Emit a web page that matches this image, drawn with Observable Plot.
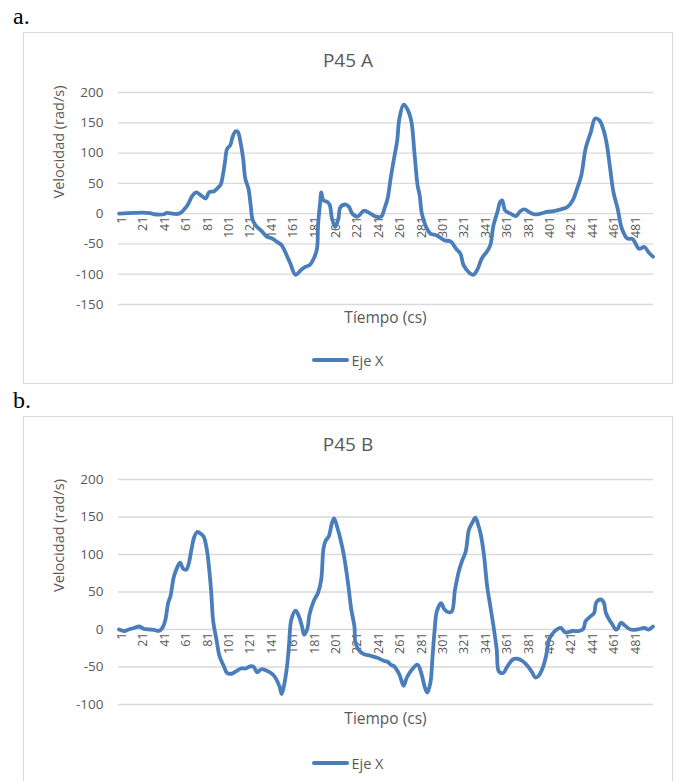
<!DOCTYPE html>
<html><head><meta charset="utf-8">
<script src="https://cdn.jsdelivr.net/npm/d3@7"></script>
<script src="https://cdn.jsdelivr.net/npm/@observablehq/plot@0.6"></script>
<style>
html,body{margin:0;padding:0;background:#fff;overflow:hidden}
body{width:675px;height:781px;position:relative;font-family:"Open Sans",sans-serif;color:#595959}
.lab{position:absolute;left:13px;font-family:"Liberation Serif",serif;font-size:24px;line-height:28px;color:#000}
.box{position:absolute;left:23px;width:650px;border:1.3px solid #d9d9d9;box-sizing:border-box}
.ptitle{position:absolute;left:23px;width:650px;text-align:center;font-size:19px;line-height:24px;color:#595959}
.xt{position:absolute;left:118px;width:535px;text-align:center;font-size:15.5px;line-height:20px;color:#595959}
.leg{position:absolute;left:23px;width:650px;display:flex;justify-content:center;align-items:center;height:20px;font-size:14.5px;color:#595959}
.leg span.l{display:inline-block;width:37px;height:4px;border-radius:2px;background:#4a7ebb;margin-right:2px}
.svgw{position:absolute;left:23px}
</style></head><body>
<script>
// ---- data ----
const xTickLabels = [1,21,41,61,81,101,121,141,161,181,201,221,241,261,281,301,321,341,361,381,401,421,441,461,481];
const aYTicks = [-150,-100,-50,0,50,100,150,200];
const bYTicks = [-100,-50,0,50,100,150,200];

const aTime = [1,9,30,34,43,45,57,65,69,73,77,82,85,90,93,96,98,100,102,105,107,110,112,115,117,119,122,124,126,130,135,139,144,149,153,157,161,166,171,175,179,183,186,187,189,190,192,196,198,200,203,206,208,213,216,219,224,230,236,241,246,249,252,255,258,261,263,267,270,274,277,280,282,284,288,292,298,305,311,316,320,323,328,332,336,340,345,348,351,355,357,359,362,367,372,376,380,384,389,395,401,407,414,420,425,429,433,437,442,446,450,454,457,460,463,467,471,476,481,487,492,496,500];
const aVel = [0,1,1,-1,-1,1,0,14,28,35,31,25,35,37,42,48,63,85,107,113,126,136,135,113,91,58,41,14,-11,-22,-30,-38,-41,-47,-52,-66,-82,-101,-93,-88,-85,-74,-58,-19,19,35,22,19,14,-8,-22,-8,11,15,11,0,-5,5,0,-5,-5,8,25,60,91,121,157,180,174,154,102,47,30,0,-22,-33,-36,-44,-46,-58,-66,-85,-97,-101,-92,-74,-62,-52,-19,5,19,22,5,0,-4,4,7,3,-1,0,3,4,7,11,22,41,63,107,135,157,154,137,113,74,36,8,-25,-41,-42,-58,-55,-64,-71];

const bTime = [1,6,10,15,20,24,30,35,38,41,44,47,49,52,54,58,61,64,66,69,71,74,77,80,83,85,87,89,92,95,99,102,106,110,115,119,124,127,130,134,139,143,147,151,153,155,158,160,162,166,169,172,174,177,179,183,187,190,192,194,197,200,202,205,208,211,215,218,221,222,226,230,236,243,249,252,255,258,263,267,270,275,280,283,287,289,292,294,296,298,302,305,309,312,315,319,322,325,328,331,334,337,339,342,345,348,351,354,356,360,364,369,373,378,383,387,390,393,397,400,403,407,414,418,425,431,435,437,442,445,447,451,454,456,460,462,465,467,470,474,479,485,492,496,500];
const bVel = [0,-2,0,2,4,1,0,-1,-2,1,11,36,44,69,78,89,81,80,87,109,122,130,128,124,107,84,53,11,-13,-36,-49,-58,-59,-56,-52,-52,-49,-50,-57,-53,-55,-58,-64,-76,-86,-76,-49,-18,13,25,18,4,-7,1,20,38,49,67,107,118,124,142,148,136,120,100,62,27,4,-18,-29,-33,-35,-38,-42,-43,-47,-49,-60,-75,-64,-53,-47,-56,-78,-84,-71,-36,0,24,35,27,23,24,53,80,93,104,133,142,149,138,127,100,58,31,4,-27,-56,-58,-49,-40,-39,-42,-49,-57,-64,-62,-51,-36,-13,-4,2,-4,-2,-2,1,11,18,22,36,40,36,22,11,7,0,1,9,5,0,0,2,0,4];

const panels = [
  {label:"a.", labelTop:2, boxTop:32, boxH:352, title:"P45 A", xTitle:"Tíempo (cs)",
   time:aTime, vel:aVel, yDomain:[-150,200], yTicks:aYTicks, mt:60, mb:80, xTitleY:317, legY:360},
  {label:"b.", labelTop:386, boxTop:416, boxH:370, title:"P45 B", xTitle:"Tiempo (cs)",
   time:bTime, vel:bVel, yDomain:[-100,200], yTicks:bYTicks, mt:63, mb:82, xTitleY:718, legY:763}
];

const BLUE = "#4a7ebb";
for (const p of panels) {
  const lab = document.createElement("div");
  lab.className = "lab"; lab.style.top = p.labelTop + "px"; lab.textContent = p.label;
  document.body.appendChild(lab);

  const box = document.createElement("div");
  box.className = "box"; box.style.top = p.boxTop + "px"; box.style.height = p.boxH + "px";
  document.body.appendChild(box);

  const data = p.time.map((t, i) => ({t, v: p.vel[i]}));
  const ticksX = xTickLabels.map(c => ({c, v: 0}));
  const svg = Plot.plot({
    width: 650, height: p.boxH,
    marginLeft: 95, marginRight: 20, marginTop: p.mt, marginBottom: p.mb,
    style: {fontFamily: '"Open Sans", sans-serif', color: "#595959", background: "transparent", overflow: "visible"},
    x: {domain: [0.5, 500.5], axis: null},
    y: {domain: p.yDomain, axis: null},
    marks: [
      Plot.gridY(p.yTicks, {stroke: "#d9d9d9", strokeOpacity: 1, strokeWidth: 1.3}),
      Plot.text(p.yTicks, {y: d => d, text: d => String(d), frameAnchor: "left", textAnchor: "end", dx: -15, fontSize: 13.5, fill: "#595959"}),
      Plot.text(ticksX, {x: "c", y: "v", text: d => String(d.c), rotate: -90, textAnchor: "end", dx: 3, dy: 3, fontSize: 12.5, fill: "#595959"}),
      Plot.text(["Velocidad (rad/s)"], {text: d => d, frameAnchor: "left", rotate: -90, dx: -59, fontSize: 14.5, fill: "#595959"}),
      Plot.line(data, {x: "t", y: "v", stroke: BLUE, strokeWidth: 3.8, curve: "catmull-rom", strokeLinejoin: "round", strokeLinecap: "round"})
    ]
  });
  const wrap = document.createElement("div");
  wrap.className = "svgw"; wrap.style.top = p.boxTop + "px";
  wrap.appendChild(svg);
  document.body.appendChild(wrap);

  const t = document.createElement("div");
  t.className = "ptitle"; t.style.top = (p.boxTop + 28 - 12) + "px"; t.textContent = p.title;
  document.body.appendChild(t);

  const xt = document.createElement("div");
  xt.className = "xt"; xt.style.top = (p.xTitleY - 10) + "px"; xt.textContent = p.xTitle;
  document.body.appendChild(xt);

  const lg = document.createElement("div");
  lg.className = "leg"; lg.style.top = (p.legY - 10) + "px";
  lg.innerHTML = '<span class="l"></span><span>Eje X</span>';
  document.body.appendChild(lg);
}
</script>
</body></html>
